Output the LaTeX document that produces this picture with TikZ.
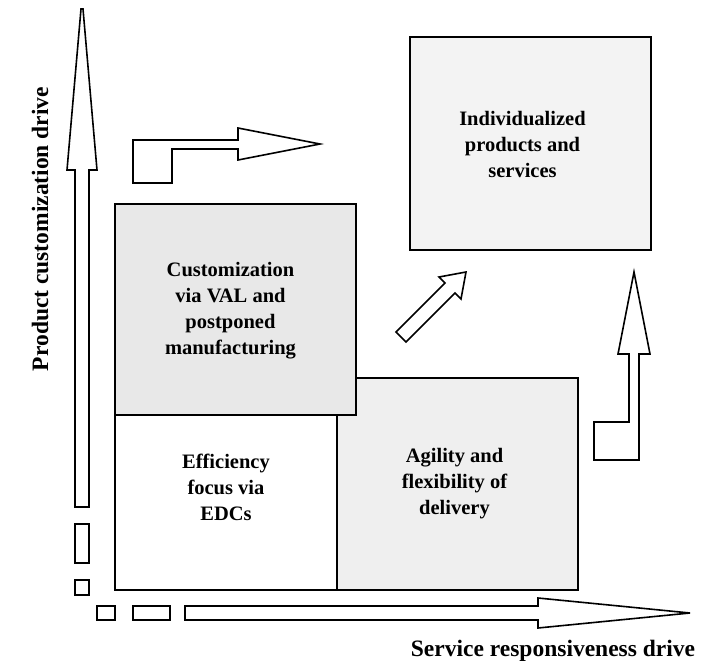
\documentclass[tikz,border=0pt]{standalone}
\usepackage{fontspec}
\setmainfont{Liberation Serif}
\definecolor{custgray}{RGB}{232,232,232}
\definecolor{agilgray}{RGB}{239,239,239}
\definecolor{indvgray}{RGB}{243,243,243}
\begin{document}
\begin{tikzpicture}[x=1pt,y=-1pt,
    box/.style={draw, line width=2pt, anchor=north west, inner sep=0pt},
    lbl/.style={align=center, font=\bfseries\fontsize{20.5}{26}\selectfont},
    axislbl/.style={font=\bfseries\fontsize{23.5}{28}\selectfont},
    hollow/.style={draw, fill=white, line width=1.6pt}]
  \useasboundingbox (0,0) rectangle (701,667);

  % the four quadrants
  \node[box, fill=white, minimum width=222pt, minimum height=175pt] (eff) at (114,414) {};
  \node[box, fill=agilgray, minimum width=241pt, minimum height=212pt] (agil) at (336,377) {};
  \node[box, fill=custgray, minimum width=241pt, minimum height=211pt] (cust) at (114,203) {};
  \node[box, fill=indvgray, minimum width=241pt, minimum height=213pt] (indv) at (409,36) {};

  \node[lbl, yshift=15pt] (eff-lbl) at (eff.center) {Efficiency\\focus via\\EDCs};
  \node[lbl, xshift=-3pt] (agil-lbl) at (agil.center) {Agility and\\flexibility of\\delivery};
  \node[lbl, xshift=-5pt, yshift=-1pt] (cust-lbl) at (cust.center) {Customization\\via VAL and\\postponed\\manufacturing};
  \node[lbl, xshift=-8pt, yshift=-1pt] (indv-lbl) at (indv.center) {Individualized\\products and\\services};

  % axes, with their broken tails
  \draw[hollow] (75,507) -- (75,170) -- (67,170) -- (81,9) -- (83,9)
    -- (97,170) -- (89,170) -- (89,507) -- cycle;
  \draw[hollow] (75,524) rectangle (89,563);
  \draw[hollow] (75,580) rectangle (89,595);
  \draw[hollow] (185,606) -- (538,606) -- (538,598) -- (690,613)
    -- (538,628) -- (538,620) -- (185,620) -- cycle;
  \draw[hollow] (133,606) rectangle (170,620);
  \draw[hollow] (97,606) rectangle (115,620);

  \node[axislbl, rotate=90] (ylbl) at (40,229) {Product customization drive};
  \node[axislbl] (xlbl) at (553,651) {Service responsiveness drive};

  % moves towards individualization
  \draw[hollow] (133,183) -- (133,140) -- (238,140) -- (238,128) -- (320,144)
    -- (238,160) -- (238,149) -- (172,149) -- (172,183) -- cycle;
  \draw[hollow] (396,332) -- (445,283) -- (439,277) -- (466,272)
    -- (461,299) -- (455,293) -- (406,342) -- cycle;
  \draw[hollow] (594,460) -- (594,422) -- (629,422) -- (629,354) -- (618,354)
    -- (634,272) -- (650,354) -- (639,354) -- (639,460) -- cycle;
\end{tikzpicture}
\end{document}
